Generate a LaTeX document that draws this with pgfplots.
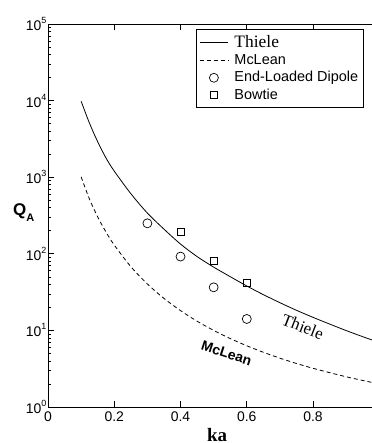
\documentclass[border=0pt]{standalone}
\usepackage{fontspec}
\setmainfont{Liberation Sans}
\newfontfamily\serif{Liberation Serif}
\usepackage{pgfplots}
\pgfplotsset{compat=1.18}
\pgfplotsset{
  lineleg/.style={legend image code/.code={\draw[##1] (0cm,0cm) -- (1cm,0cm);}},
  markleg/.style={legend image code/.code={\draw[##1] plot coordinates {(0.5cm,0cm)};}},
}
\newcommand\tp[1]{10\raisebox{0.5em}{\fontsize{9}{9}\selectfont #1}}
\begin{document}
\fontsize{14}{16}\selectfont
\begin{tikzpicture}
\path[use as bounding box] (-48bp,-36bp) rectangle (324bp,407bp);
\begin{axis}[
  at={(0,0)}, anchor=south west,
  scale only axis, width=331.3bp, height=383bp,
  xmin=0, xmax=1, ymin=1, ymax=1e5, ymode=log,
  xtick={0,0.2,0.4,0.6,0.8}, xticklabels={0,0.2,0.4,0.6,0.8},
  ytick={1,10,100,1000,10000,100000},
  yticklabels={\tp0,\tp1,\tp2,\tp3,\tp4,\tp5},
  yticklabel style={inner xsep=1.5bp},
  major tick length=6bp, minor tick length=3bp,
  tick style={black, line width=0.6pt},
  axis line style={line width=0.8pt},
  ticklabel style={font=\fontsize{14}{16}\selectfont},
  legend cell align=left,
  legend style={at={(axis description cs:0.4467,0.987)}, anchor=north west,
    draw=black, line width=0.7pt, font=\fontsize{14.5}{16}\selectfont,
    inner xsep=3bp, inner ysep=4bp, row sep=1bp,
    /tikz/every odd column/.append style={column sep=4bp}},
]
\addplot[black, line width=0.8pt, smooth, lineleg] coordinates {
(0.1,9800) (0.125,5100) (0.15,2900) (0.175,1784) (0.2,1200) (0.25,610)
(0.3,340) (0.35,210) (0.4,134) (0.45,92) (0.5,67) (0.55,50.3)
(0.6,38.0) (0.65,29.3) (0.7,23.0) (0.75,18.3) (0.8,14.8) (0.85,12.1)
(0.9,9.95) (0.95,8.28) (1.0,6.94)};
\addlegendentry{\serif\fontsize{17.5}{17}\selectfont Thiele}
\addplot[black, line width=0.8pt, smooth, dash pattern=on 4bp off 3bp, lineleg] coordinates {
(0.1,1010) (0.125,520) (0.15,303) (0.175,192.3) (0.2,130) (0.25,68)
(0.3,40.37) (0.35,26.18) (0.4,18.13) (0.45,13.19) (0.5,10) (0.55,7.83)
(0.6,6.30) (0.65,5.18) (0.7,4.34) (0.75,3.70) (0.8,3.20) (0.85,2.81)
(0.9,2.48) (0.95,2.22) (1.0,2.0)};
\addlegendentry{McLean}
\addplot[only marks, mark=o, mark size=4.5bp, mark options={black, line width=0.7pt}, markleg] coordinates {
(0.3,250) (0.4,92) (0.5,36.5) (0.6,14.1)};
\addlegendentry{End-Loaded Dipole}
\addplot[only marks, mark=square, mark size=3.5bp, mark options={black, line width=0.7pt}, markleg] coordinates {
(0.4,194) (0.5,80.5) (0.6,42)};
\addlegendentry{Bowtie}
\node[rotate=-21, font=\serif\fontsize{17}{17}\selectfont] at (axis cs:0.769,11.2) {Thiele};
\node[rotate=-18, font=\bfseries\fontsize{14}{14}\selectfont] at (axis cs:0.539,5.0) {McLean};
\end{axis}
\node[font=\serif\bfseries\fontsize{19}{19}\selectfont, anchor=base] at (169bp,-34bp) {ka};
\node[font=\bfseries\fontsize{17}{17}\selectfont, anchor=base west, inner sep=0pt] at (-35bp,191bp) {Q\raisebox{-0.35em}{\fontsize{11}{11}\selectfont A}};
\end{tikzpicture}
\end{document}
